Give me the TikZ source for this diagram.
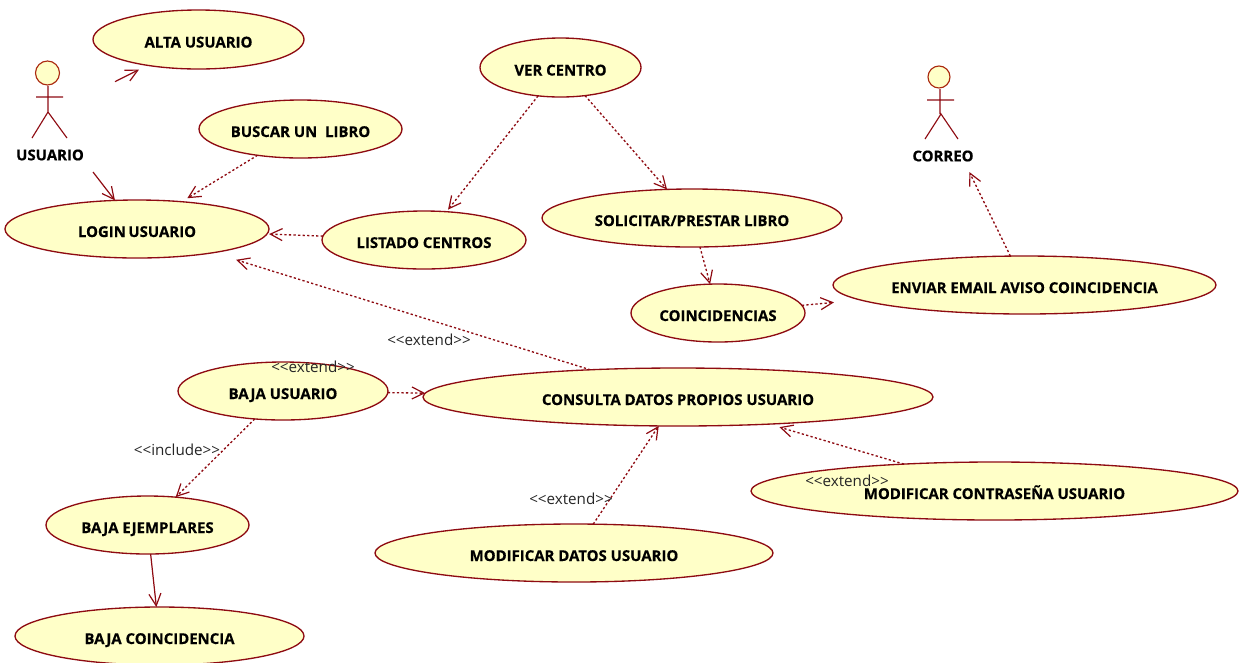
\documentclass[tikz,border=0pt]{standalone}
\usepackage{fontspec}
\setmainfont[BoldFeatures={FakeBold=0.5}]{Open Sans}
\usetikzlibrary{shapes.geometric,arrows.meta}
\definecolor{umlline}{HTML}{8E0B12}
\definecolor{umlfill}{HTML}{FFFFC8}
\tikzset{
  x=0.75pt,y=-0.75pt,
  usecase/.style n args={2}{ellipse,draw=umlline,fill=umlfill,line width=1pt,inner sep=0pt,outer sep=0pt,
    minimum width=#1*0.75pt,minimum height=#2*0.75pt,font=\fontsize{11.2pt}{12pt}\selectfont\bfseries,text=black,
    text height=12pt,text depth=0pt},
  actorbox/.style n args={2}{rectangle,inner sep=0pt,outer sep=0pt,minimum width=#1*0.75pt,minimum height=#2*0.75pt},
  actorname/.style={inner sep=0pt,font=\fontsize{11.2pt}{12pt}\selectfont\bfseries,text=black},
  stereo/.style={inner sep=0pt,font=\fontsize{11.4pt}{12pt}\selectfont,text=black!85},
  limb/.style={draw=umlline,line width=0.85pt},
  head/.style={draw=umlline!75!orange,fill=umlfill,line width=0.85pt},
  assoc/.style={draw=umlline,line width=0.9pt,-{Straight Barb[length=9pt,width=9pt,line width=0.9pt]}},
  dep/.style={assoc,line width=1pt,dash pattern=on 1.7pt off 1.7pt,-{Straight Barb[length=9pt,width=9pt,line width=0.9pt]}},
}
\begin{document}
\begin{tikzpicture}
\useasboundingbox (0,0) rectangle (1241,662);
\clip (0,0) rectangle (1241,662);
% use cases
\node[usecase={211}{59}] (alta) at (198.5,39.5) {ALTA USUARIO};
\node[usecase={203}{58}] (buscar) at (300.5,129) {BUSCAR UN\ \ LIBRO};
\node[usecase={264}{58}] (login) at (137,229) {LOGIN\,USUARIO};
\node[usecase={161}{59}] (ver) at (560.5,67.5) {VER CENTRO};
\node[usecase={204}{58}] (listado) at (424,240) {LISTADO CENTROS};
\node[usecase={300}{58}] (solicitar) at (692,218) {SOLICITAR/PRESTAR LIBRO};
\node[usecase={174}{58}] (coinc) at (718,313) {COINCIDENCIAS};
\node[usecase={383}{58}] (enviar) at (1024.5,285) {ENVIAR EMAIL AVISO COINCIDENCIA};
\node[usecase={510}{58}] (consulta) at (678,397) {CONSULTA DATOS PROPIOS USUARIO};
\node[usecase={210}{58}] (bajausr) at (283,391) {BAJA USUARIO};
\node[usecase={203}{58}] (ejemplares) at (147.5,525) {BAJA EJEMPLARES};
\node[usecase={398}{58}] (moddatos) at (574,553) {MODIFICAR DATOS USUARIO};
\node[usecase={487}{58}] (modpass) at (994.5,491) {MODIFICAR CONTRASEÑA USUARIO};
\node[usecase={289}{58}] (bajacoinc) at (159.5,636) {BAJA COINCIDENCIA};
% actors
\node[actorbox={132}{114}] (usuario) at (49,115) {};
\draw[limb] (48,86) -- (48,112) (36,97) -- (63,97) (32,138) -- (48,112) -- (67,138);
\node[head,circle,inner sep=0pt,minimum size=24*0.75pt] (usuariohead) at (47.5,73) {};
\node[actorname] (usuariolabel) at (50,155) {USUARIO};
\node[actorbox={100}{120}] (correo) at (940,112) {};
\draw[limb] (940,89) -- (940,114) (927,100) -- (954,100) (925,139) -- (941,114) -- (958,139);
\node[head,circle,inner sep=0pt,minimum size=22*0.75pt] (correohead) at (939,77) {};
\node[actorname] (correolabel) at (943,156) {CORREO};
% connectors
\draw[assoc,shorten >=7pt] (usuario) -- (alta);
\draw[assoc] (usuario) -- (login);
\draw[dep,shorten >=5pt] (buscar) -- (login);
\draw[dep,shorten >=1.5pt] (listado) -- (login);
\draw[dep,shorten >=18pt] (consulta) -- (login);
\draw[dep,shorten >=2pt] (ver) -- (listado);
\draw[dep] (ver) -- (solicitar);
\draw[dep] (solicitar) -- (coinc);
\draw[dep,shorten >=20pt] (coinc) -- (enviar);
\draw[dep] (enviar) -- (correo);
\draw[dep] (bajausr) -- (consulta);
\draw[dep] (bajausr) -- (ejemplares);
\draw[assoc] (ejemplares) -- (bajacoinc);
\draw[dep] (moddatos) -- (consulta);
\draw[dep,shorten >=8pt] (modpass) -- (consulta);
% stereotypes
\node[stereo] (s1) at (429,340) {<{}<extend>{}>};
\node[stereo] (s2) at (313,367) {<{}<extend>{}>};
\node[stereo] (s3) at (177,450) {<{}<include>{}>};
\node[stereo] (s4) at (571,499) {<{}<extend>{}>};
\node[stereo] (s5) at (847,481) {<{}<extend>{}>};
\end{tikzpicture}
\end{document}
